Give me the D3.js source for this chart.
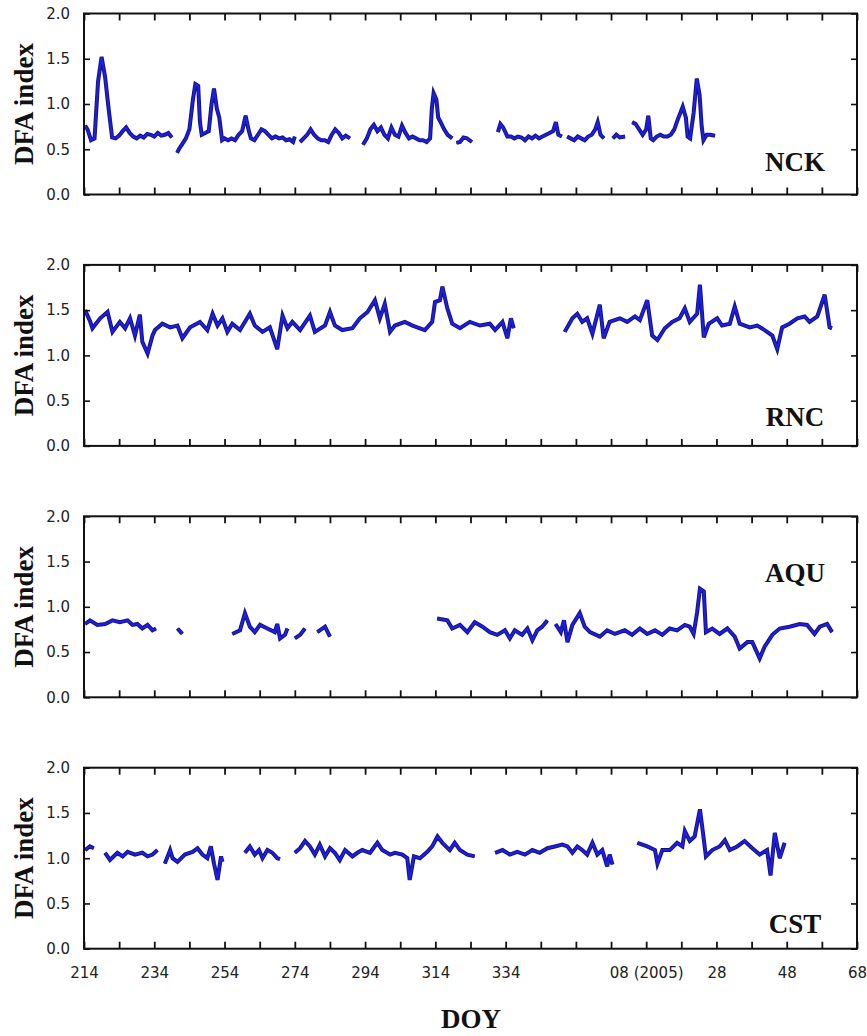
<!DOCTYPE html>
<html>
<head>
<meta charset="utf-8">
<script src="https://cdn.jsdelivr.net/npm/d3@7"></script>
<style>
  html, body { margin: 0; padding: 0; background: #fff; }
  svg { display: block; }
</style>
</head>
<body>
<svg id="chart" width="867" height="1036"></svg>
<script>
// day of year, continuing past 366 into 2005
const xTickDays = [214, 234, 254, 274, 294, 314, 334, 354, 374, 394, 414, 434];
const xTickLabels = ["214", "234", "254", "274", "294", "314", "334", "", "08 (2005)", "28", "48", "68"];
const yTicks = [0, 0.5, 1.0, 1.5, 2.0];
const stations = ["NCK", "RNC", "AQU", "CST"];

// [day, DFA index], null = data gap
const nck = [
  [214.3,0.76],[215,0.72],[216,0.60],[217,0.62],[218,1.25],[219,1.52],[220,1.30],[221,0.95],[222,0.63],[223,0.62],
  [224,0.65],[225,0.70],[226,0.74],[227,0.68],[228,0.64],[229,0.62],[230,0.65],[231,0.63],[232,0.67],[233,0.66],
  [234,0.64],[235,0.68],[236,0.65],[237,0.66],[238,0.68],[239,0.63], null,
  [240.5,0.46],[241,0.50],[242,0.56],[243,0.62],[244,0.72],[245,1.05],[245.7,1.22],[246.5,1.20],[247,0.80],[247.5,0.66],
  [248.5,0.68],[249.5,0.70],[250.3,1.00],[251,1.17],[251.8,0.95],[252.5,0.85],[253.3,0.60],[254,0.62],[255,0.60],
  [256,0.62],[257,0.60],[258,0.66],[259,0.70],[260,0.87],[260.8,0.72],[261.5,0.62],[262.5,0.60],[263.5,0.66],
  [264.5,0.72],[265.5,0.70],[266.5,0.66],[267.5,0.62],[268.5,0.64],[269.5,0.62],[270.5,0.63],[271.5,0.60],
  [272.5,0.61],[273.5,0.58],[274,0.64], null,
  [275.5,0.58],[276.5,0.62],[277.5,0.66],[278.5,0.72],[279.5,0.66],[280.5,0.62],[281.5,0.60],[282.5,0.60],
  [283.5,0.58],[284.5,0.66],[285.5,0.72],[286.5,0.68],[287.5,0.62],[288.5,0.65],[289.7,0.62], null,
  [293.4,0.55],[294.5,0.62],[295.5,0.72],[296.5,0.77],[297.5,0.70],[298.5,0.74],[299.5,0.66],[300.5,0.62],
  [301.5,0.74],[302.5,0.66],[303.5,0.64],[304.5,0.76],[305.5,0.68],[306.5,0.62],[307.5,0.64],[308.5,0.62],
  [309.5,0.60],[310.5,0.60],[311.5,0.58],[312.5,0.62],[313,0.95],[313.5,1.12],[314.3,1.05],[314.8,0.85],
  [315.5,0.80],[316.5,0.72],[317.5,0.66],[318.8,0.62], null,
  [320,0.57],[321,0.58],[322,0.63],[323,0.62],[324.4,0.58], null,
  [331.8,0.69],[332.5,0.78],[333.3,0.74],[334.5,0.64],[335.5,0.64],[336.5,0.62],[337.5,0.64],[338.5,0.63],
  [339.5,0.60],[340.5,0.64],[341.5,0.62],[342.5,0.65],[343.5,0.62],[344.5,0.64],[345.5,0.66],[346.5,0.68],
  [347.5,0.70],[348.3,0.80],[349,0.66],[350,0.64], null,
  [351.5,0.64],[352.5,0.62],[353.5,0.60],[354.5,0.64],[355.5,0.62],[356.5,0.60],[357.5,0.64],[358.5,0.66],
  [359.5,0.72],[360.2,0.80],[361,0.66],[362,0.62], null,
  [364.5,0.62],[365.5,0.66],[366.5,0.63],[368,0.64], null,
  [370,0.80],[371,0.78],[372,0.72],[373,0.66],[374,0.72],[374.6,0.87],[375.3,0.62],[376,0.60],[377,0.64],
  [378,0.66],[379,0.64],[380,0.64],[381,0.66],[382,0.72],[383,0.83],[384.4,0.97],[385.3,0.85],[385.8,0.64],
  [386.5,0.62],[387.5,0.90],[388.4,1.28],[389.2,1.10],[389.8,0.75],[390.3,0.60],[391.2,0.66],[392.2,0.66],[393.6,0.65]
];

const rnc = [
  [214.3,1.50],[215.7,1.38],[216.4,1.30],[218.6,1.41],[220.7,1.48],[222.1,1.26],[224.2,1.37],[225.7,1.30],
  [227.1,1.41],[228.5,1.22],[229.9,1.45],[230.6,1.15],[232.1,1.02],[233.5,1.22],[234.2,1.28],[236.3,1.35],
  [238.5,1.31],[240.6,1.33],[242,1.19],[244.2,1.31],[247,1.37],[249.1,1.28],[250.6,1.46],[252,1.33],
  [253.4,1.41],[254.8,1.26],[256.2,1.35],[258.4,1.28],[261.2,1.46],[262.6,1.33],[264.8,1.26],[266.9,1.31],
  [269,1.07],[270.5,1.44],[271.9,1.30],[273.3,1.37],[275.5,1.28],[278.3,1.44],[279.7,1.26],[282.6,1.33],
  [284,1.48],[285.4,1.33],[287.5,1.28],[290.4,1.30],[292.5,1.41],[294.7,1.48],[296.8,1.61],[298.2,1.41],
  [299.6,1.57],[301.1,1.26],[302.5,1.33],[305.3,1.37],[307.5,1.33],[311,1.28],[313.1,1.37],[313.9,1.59],
  [315.3,1.61],[316,1.76],[317.4,1.52],[318.8,1.35],[321,1.30],[323.8,1.37],[326.7,1.33],[329.5,1.35],
  [331,1.28],[333.1,1.37],[334.5,1.19],[335.5,1.41],[336.3,1.30], null,
  [350.8,1.26],[353,1.41],[354.4,1.46],[355.8,1.37],[357.2,1.41],[358.7,1.24],[360.8,1.56],[361.9,1.19],
  [363.6,1.37],[366.5,1.41],[368.6,1.37],[370.8,1.43],[372.2,1.39],[374.3,1.61],[375.7,1.22],[377.2,1.17],
  [379.3,1.30],[381.4,1.37],[383.5,1.41],[385,1.52],[386.4,1.37],[388.5,1.46],[389.3,1.78],[390.4,1.20],
  [391.8,1.35],[394.2,1.41],[395.6,1.33],[397.8,1.35],[399.2,1.54],[400.6,1.35],[403.5,1.31],[405.6,1.33],
  [407.7,1.28],[409.9,1.22],[411.3,1.07],[412.7,1.31],[414.8,1.35],[417,1.41],[419.1,1.43],[420.5,1.37],
  [422.7,1.43],[424.8,1.67],[426.2,1.31],[426.9,1.30]
];

const aqu = [
  [214.3,0.81],[215.7,0.85],[217.8,0.80],[220,0.81],[222.1,0.85],[224.2,0.83],[226.4,0.85],[227.8,0.80],
  [229.2,0.81],[230.6,0.76],[232.1,0.80],[233.5,0.74],[234.5,0.76], null,
  [240.6,0.76],[242,0.70], null,
  [256.2,0.70],[258.4,0.74],[259.8,0.93],[261.2,0.78],[262.6,0.72],[264.1,0.80],[266.2,0.76],[268.3,0.72],
  [269,0.81],[269.8,0.65],[271.2,0.69],[271.9,0.76], null,
  [274,0.65],[275.5,0.69],[276.9,0.76], null,
  [280.4,0.72],[282.6,0.78],[284,0.67], null,
  [314.5,0.87],[317.4,0.85],[318.8,0.76],[321,0.80],[323.1,0.72],[325.2,0.83],[327.4,0.78],[329.5,0.72],
  [331.6,0.69],[333.8,0.74],[335.2,0.65],[336.6,0.74],[338.7,0.69],[340.2,0.76],[341.6,0.63],[343,0.74],
  [344.4,0.78],[345.9,0.85], null,
  [348.2,0.81],[349.7,0.72],[350.6,0.85],[351.6,0.61],[353,0.80],[355.1,0.93],[356.5,0.78],[358,0.72],
  [360.8,0.67],[362.9,0.74],[365.1,0.70],[367.9,0.74],[370,0.69],[372.2,0.76],[374.3,0.70],[376.5,0.74],
  [378.6,0.69],[380.7,0.76],[382.8,0.74],[385,0.80],[386.4,0.78],[387.5,0.70],[388.5,0.94],[389.3,1.20],
  [390.4,1.17],[391,0.72],[392.8,0.76],[394.9,0.70],[397.1,0.76],[399.2,0.67],[400.6,0.54],[402.8,0.61],
  [404.2,0.61],[406.3,0.43],[407.7,0.56],[409.9,0.69],[412,0.76],[414.8,0.78],[417.7,0.81],[419.8,0.80],
  [421.9,0.70],[423.4,0.78],[425.5,0.81],[426.9,0.72]
];

const cst = [
  [214.3,1.09],[215.7,1.13],[216.8,1.11], null,
  [220,1.06],[221.4,0.98],[223.5,1.06],[225,1.02],[226.4,1.07],[228.5,1.04],[230.6,1.06],[232.1,1.02],
  [233.5,1.04],[234.9,1.09], null,
  [237,0.94],[238.5,1.09],[239.2,1.00],[240.6,0.96],[242.7,1.04],[244.9,1.07],[246.3,1.11],[247.7,1.04],
  [249.1,1.00],[250.1,1.13],[251,0.94],[252,0.76],[253,1.02],[253.4,0.96], null,
  [259.8,1.06],[261.2,1.13],[262.6,1.04],[263.8,1.09],[264.8,1.00],[266.2,1.09],[267.6,1.06],[269,1.00],[269.8,0.99], null,
  [274,1.06],[275.5,1.11],[276.9,1.19],[278.3,1.13],[279.7,1.04],[281.1,1.15],[282.6,1.02],[284,1.11],
  [285.4,1.06],[286.8,0.98],[288.3,1.09],[290.4,1.02],[291.8,1.06],[293.2,1.09],[295.4,1.06],[297.5,1.17],
  [298.9,1.09],[301.1,1.04],[302.5,1.06],[304.6,1.04],[306,1.00],[306.7,0.76],[307.9,1.02],[309.6,1.00],
  [311.7,1.07],[313.1,1.13],[314.6,1.24],[316,1.17],[318.1,1.09],[319.5,1.17],[321,1.09],[323.1,1.04],[325.2,1.02], null,
  [331,1.06],[333.1,1.09],[335.2,1.04],[337.3,1.07],[339.5,1.04],[341.6,1.09],[343.7,1.06],[345.9,1.11],
  [348,1.13],[350.1,1.15],[351.6,1.13],[353,1.06],[354.4,1.13],[355.8,1.09],[357.2,1.04],[358.7,1.17],
  [360.1,1.04],[361.5,1.09],[362.9,0.91],[363.6,1.04],[364.4,0.93], null,
  [371.5,1.17],[374.3,1.13],[376.5,1.09],[377.2,0.94],[378.6,1.09],[380.7,1.09],[382.8,1.17],[384.3,1.13],
  [385,1.30],[386.4,1.19],[387.8,1.24],[389.3,1.54],[390,1.33],[391,1.02],[392.8,1.09],[394.9,1.13],
  [396.4,1.20],[397.8,1.09],[399.9,1.13],[402,1.19],[404.2,1.11],[406.3,1.04],[408.4,1.09],[409.4,0.81],
  [410.6,1.28],[412,1.00],[413.4,1.17]
];

const series = [nck, rnc, aqu, cst];
// label baseline offset from panel top
const labelY = [157, 161, 66, 165];

const svg = d3.select("#chart");
const left = 84, right = 857;
const panelH = 181, panelStep = 251.4, firstTop = 13.5;

const x = d3.scaleLinear().domain([214, 434]).range([left, right]);
const minorTicks = d3.range(214, 435, 10);

stations.forEach((name, i) => {
  const top = firstTop + i * panelStep;
  const y = d3.scaleLinear().domain([0, 2]).range([top + panelH, top]);
  const g = svg.append("g");

  // data line: dark edge plus bright blue core
  const line = d3.line()
    .defined(d => d !== null)
    .x(d => x(d[0]))
    .y(d => y(d[1]));

  g.append("path")
    .datum(series[i])
    .attr("fill", "none")
    .attr("stroke", "#14147e")
    .attr("stroke-width", 4)
    .attr("d", line);
  g.append("path")
    .datum(series[i])
    .attr("fill", "none")
    .attr("stroke", "#1e1ee4")
    .attr("stroke-width", 2)
    .attr("d", line);

  // ticks on all four sides, pointing inward
  g.append("g")
    .attr("transform", `translate(0,${top + panelH})`)
    .call(d3.axisBottom(x).tickValues(minorTicks).tickSizeInner(-7).tickSizeOuter(0).tickFormat(""))
    .call(a => a.select(".domain").remove())
    .selectAll("line").attr("stroke", "#111").attr("stroke-width", 1.8);
  g.append("g")
    .attr("transform", `translate(0,${top})`)
    .call(d3.axisTop(x).tickValues(minorTicks).tickSizeInner(-7).tickSizeOuter(0).tickFormat(""))
    .call(a => a.select(".domain").remove())
    .selectAll("line").attr("stroke", "#111").attr("stroke-width", 1.8);
  g.append("g")
    .attr("transform", `translate(${left},0)`)
    .call(d3.axisLeft(y).tickValues(yTicks).tickSizeInner(-6).tickSizeOuter(0).tickPadding(14).tickFormat(d3.format(".1f")))
    .call(a => a.select(".domain").remove())
    .call(a => a.selectAll("line").attr("stroke", "#111").attr("stroke-width", 1.6))
    .call(a => a.selectAll("text")
      .attr("fill", "#222")
      .style("font-family", "'DejaVu Sans', sans-serif")
      .style("font-size", "15px"));
  g.append("g")
    .attr("transform", `translate(${right},0)`)
    .call(d3.axisRight(y).tickValues(yTicks).tickSizeInner(-6).tickSizeOuter(0).tickFormat(""))
    .call(a => a.select(".domain").remove())
    .selectAll("line").attr("stroke", "#111").attr("stroke-width", 1.6);

  // frame
  g.append("rect")
    .attr("x", left)
    .attr("y", top)
    .attr("width", right - left)
    .attr("height", panelH)
    .attr("fill", "none")
    .attr("stroke", "#111")
    .attr("stroke-width", 2);

  // y label
  g.append("text")
    .attr("transform", `translate(33,${top + panelH / 2}) rotate(-90)`)
    .attr("text-anchor", "middle")
    .style("font-family", "'Liberation Serif', 'Times New Roman', serif")
    .style("font-weight", "bold")
    .style("font-size", "27px")
    .attr("fill", "#111")
    .text("DFA index");

  // station label
  g.append("text")
    .attr("x", 795)
    .attr("y", top + labelY[i])
    .attr("text-anchor", "middle")
    .style("font-family", "'Liberation Serif', 'Times New Roman', serif")
    .style("font-weight", "bold")
    .style("font-size", "27px")
    .attr("fill", "#111")
    .text(name);

  // x tick labels on the bottom panel only
  if (i === stations.length - 1) {
    g.append("g")
      .attr("transform", `translate(0,${top + panelH})`)
      .call(d3.axisBottom(x).tickValues(xTickDays).tickSize(0).tickPadding(19)
        .tickFormat((d, k) => xTickLabels[k]))
      .call(a => a.select(".domain").remove())
      .call(a => a.selectAll("text")
        .attr("fill", "#222")
        .style("font-family", "'DejaVu Sans', sans-serif")
        .style("font-size", "15px"));
  }
});

svg.append("text")
  .attr("x", 471)
  .attr("y", 1028)
  .attr("text-anchor", "middle")
  .style("font-family", "'Liberation Serif', 'Times New Roman', serif")
  .style("font-weight", "bold")
  .style("font-size", "27px")
  .attr("fill", "#111")
  .text("DOY");
</script>
</body>
</html>
